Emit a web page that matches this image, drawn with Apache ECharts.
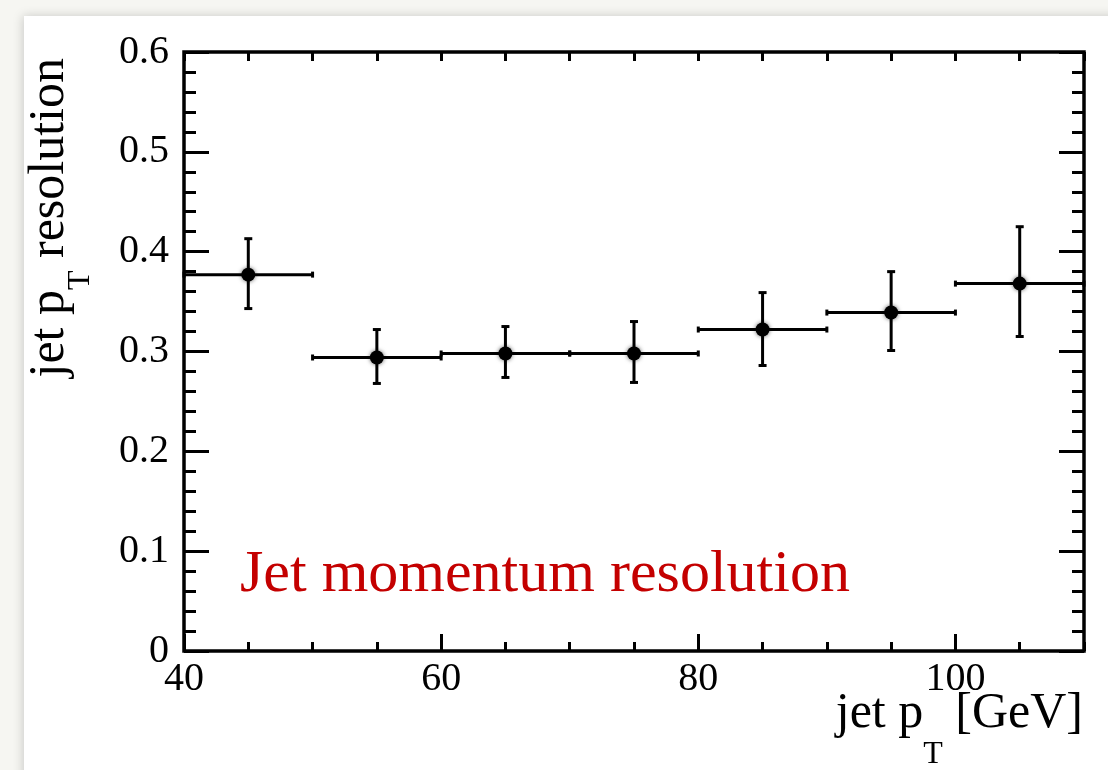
<!DOCTYPE html>
<html>
<head>
<meta charset="utf-8">
<script src="https://cdn.jsdelivr.net/npm/echarts@6/dist/echarts.min.js"></script>
<style>html,body{margin:0;padding:0;background:#f6f6f2;}#c{width:1108px;height:770px;}</style>
</head>
<body>
<div id="c"></div>
<script>
// ---- data ----
const binLow    = [40, 50, 60, 70, 80, 90, 100];
const binHigh   = [50, 60, 70, 80, 90, 100, 110];
const xCenters  = [45, 55, 65, 75, 85, 95, 105];
const yValues   = [0.377, 0.294, 0.298, 0.298, 0.322, 0.339, 0.368];
const yErrLow   = [0.343, 0.268, 0.274, 0.269, 0.286, 0.301, 0.315];
const yErrHigh  = [0.413, 0.322, 0.325, 0.330, 0.359, 0.380, 0.425];
const xTickLabels = [40, 60, 80, 100];
const yTickLabels = [0, 0.1, 0.2, 0.3, 0.4, 0.5, 0.6];

const FONT = 'Liberation Serif';
const seriesData = xCenters.map((x, i) => [x, yValues[i], yErrLow[i], yErrHigh[i], binLow[i], binHigh[i]]);

const chart = echarts.init(document.getElementById('c'), null, {renderer: 'canvas'});
const gridPos = {left: 184, right: 24, top: 52, bottom: 119};

function renderItem(params, api) {
  const x = api.value(0), y = api.value(1);
  const lo = api.value(2), hi = api.value(3), xl = api.value(4), xh = api.value(5);
  const c = api.coord([x, y]);
  const pLo = api.coord([x, lo]);
  const pHi = api.coord([x, hi]);
  const pL = api.coord([xl, y]);
  const pR = api.coord([xh, y]);
  const st = {stroke: '#000', lineWidth: 3};
  const cw = 4, ch = 3;
  return {
    type: 'group',
    children: [
      {type: 'line', shape: {x1: c[0], y1: pLo[1], x2: c[0], y2: pHi[1]}, style: st},
      {type: 'line', shape: {x1: c[0] - cw, y1: pLo[1], x2: c[0] + cw, y2: pLo[1]}, style: st},
      {type: 'line', shape: {x1: c[0] - cw, y1: pHi[1], x2: c[0] + cw, y2: pHi[1]}, style: st},
      {type: 'line', shape: {x1: pL[0], y1: c[1], x2: pR[0], y2: c[1]}, style: st},
      {type: 'line', shape: {x1: pL[0], y1: c[1] - ch, x2: pL[0], y2: c[1] + ch}, style: st},
      {type: 'line', shape: {x1: pR[0], y1: c[1] - ch, x2: pR[0], y2: c[1] + ch}, style: st},
      {type: 'circle', shape: {cx: c[0], cy: c[1], r: 7}, style: {fill: '#000', shadowBlur: 4, shadowColor: 'rgba(0,0,0,0.6)'}}
    ]
  };
}

const labelStyle = {fontFamily: FONT, fontSize: 40, color: '#000'};

const option = {
  backgroundColor: '#f6f6f2',
  animation: false,
  grid: [
    Object.assign({show: true, borderColor: '#000', borderWidth: 3.5, backgroundColor: 'transparent'}, gridPos),
    Object.assign({show: false}, gridPos)
  ],
  xAxis: [
    {
      type: 'value', gridIndex: 0, position: 'bottom', min: 40, max: 110, interval: 20,
      axisLine: {show: false}, splitLine: {show: false},
      axisTick: {inside: true, length: 17, lineStyle: {color: '#000', width: 3}, customValues: xTickLabels},
      axisLabel: Object.assign({margin: 8, customValues: xTickLabels}, labelStyle)
    },
    {
      type: 'value', gridIndex: 1, position: 'bottom', min: 40, max: 110, interval: 5,
      axisLine: {show: false}, splitLine: {show: false}, axisLabel: {show: false},
      axisTick: {inside: true, length: 9, lineStyle: {color: '#000', width: 3}}
    },
    {
      type: 'value', gridIndex: 1, position: 'top', min: 40, max: 110, interval: 5,
      axisLine: {show: false}, splitLine: {show: false}, axisLabel: {show: false},
      axisTick: {inside: true, length: 9, lineStyle: {color: '#000', width: 3}}
    }
  ],
  yAxis: [
    {
      type: 'value', gridIndex: 0, position: 'left', min: 0, max: 0.6, interval: 0.1,
      axisLine: {show: false}, splitLine: {show: false},
      axisTick: {inside: true, length: 25, lineStyle: {color: '#000', width: 3}},
      minorTick: {show: true, splitNumber: 5, length: 12, lineStyle: {color: '#000', width: 3}},
      axisLabel: Object.assign({margin: 15, customValues: yTickLabels, formatter: v => String(+v.toFixed(1))}, labelStyle)
    },
    {
      type: 'value', gridIndex: 0, position: 'right', min: 0, max: 0.6, interval: 0.1,
      axisLine: {show: false}, splitLine: {show: false}, axisLabel: {show: false},
      axisTick: {inside: true, length: 25, lineStyle: {color: '#000', width: 3}},
      minorTick: {show: true, splitNumber: 5, length: 12, lineStyle: {color: '#000', width: 3}}
    },
    {
      type: 'value', gridIndex: 1, min: 0, max: 1, show: false
    }
  ],
  series: [
    {
      type: 'custom', xAxisIndex: 0, yAxisIndex: 0, renderItem: renderItem,
      data: seriesData, z: 5
    }
  ],
  graphic: [
    {
      type: 'rect', z: -10, silent: true,
      shape: {x: 24, y: 16, width: 1200, height: 900},
      style: {fill: '#ffffff', shadowBlur: 10, shadowColor: 'rgba(0,0,0,0.18)', shadowOffsetX: -1}
    },
    {
      type: 'text', z: 10, x: 240, y: 575,
      style: {text: 'Jet momentum resolution', fontFamily: FONT, fontSize: 60, fill: '#c40000',
              align: 'left', verticalAlign: 'middle'}
    },
    {
      type: 'text', z: 10, x: 1083, y: 689,
      style: {
        text: '{m|jet p}{s|T}{m| [GeV]}',
        align: 'right', verticalAlign: 'top', fill: '#000',
        rich: {
          m: {fontFamily: FONT, fontSize: 50, lineHeight: 50, verticalAlign: 'top', fill: '#000'},
          s: {fontFamily: FONT, fontSize: 32, lineHeight: 32, verticalAlign: 'top', padding: [50, 0, 0, 0], fill: '#000'}
        }
      }
    },
    {
      type: 'text', z: 10, x: 25, y: 58, rotation: Math.PI / 2,
      style: {
        text: '{m|jet p}{s|T}{m| resolution}',
        align: 'right', verticalAlign: 'top', fill: '#000',
        rich: {
          m: {fontFamily: FONT, fontSize: 50, lineHeight: 50, verticalAlign: 'top', fill: '#000'},
          s: {fontFamily: FONT, fontSize: 32, lineHeight: 32, verticalAlign: 'top', padding: [40, 0, 0, 0], fill: '#000'}
        }
      }
    }
  ]
};
chart.setOption(option);
</script>
</body>
</html>
